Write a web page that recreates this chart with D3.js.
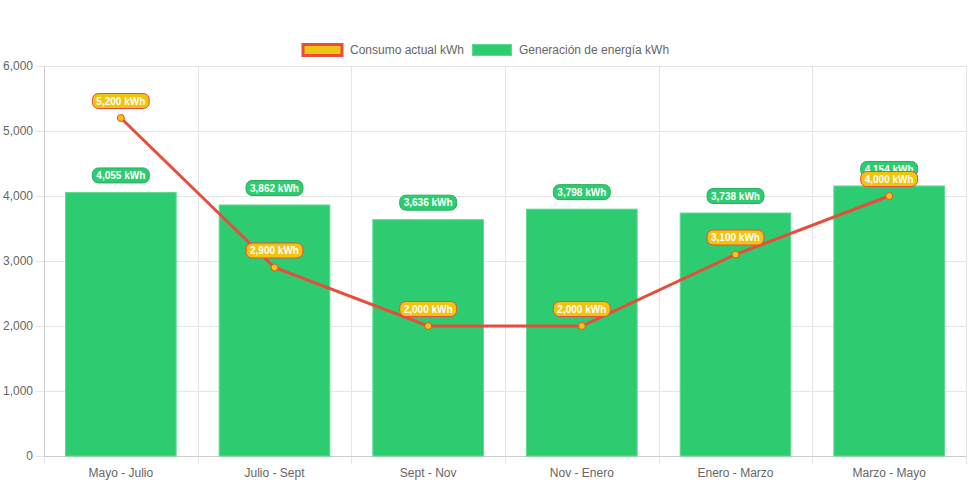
<!DOCTYPE html>
<html><head><meta charset="utf-8">
<script src="https://cdn.jsdelivr.net/npm/d3@7"></script>
<style>body{margin:0;background:#fff;}svg{display:block;font-family:"Liberation Sans",Arial,Helvetica,sans-serif;}</style>
</head><body><svg id="c" width="971" height="485"></svg>
<script>
const categories = ["Mayo - Julio","Julio - Sept","Sept - Nov","Nov - Enero","Enero - Marzo","Marzo - Mayo"];
const consumo = [5200, 2900, 2000, 2000, 3100, 4000];
const generacion = [4055, 3862, 3636, 3798, 3738, 4154];
const yTicks = [0,1000,2000,3000,4000,5000,6000];
const seriesNames = ["Consumo actual kWh","Generación de energía kWh"];

const svg = d3.select("#c");
const m = {l:44, r:966, t:66, b:456};
const x = d3.scaleBand().domain(categories).range([m.l, m.r]).paddingInner(0).paddingOuter(0);
const y = d3.scaleLinear().domain([0,6000]).range([m.b, m.t]);
const fmt = d3.format(",");
const grid = "#e5e5e5";

// horizontal grid
const g = svg.append("g");
yTicks.forEach(t=>{
  g.append("line").attr("x1",m.l-8).attr("x2",m.r).attr("y1",y(t)+0.5).attr("y2",y(t)+0.5).attr("stroke",grid);
  g.append("text").attr("x",m.l-11).attr("y",y(t)+4).attr("text-anchor","end").attr("font-size",12).attr("fill","#666").text(fmt(t));
});
// vertical grid
const bounds = categories.map(c=>x(c)).concat([m.r]);
bounds.forEach(b=>{
  g.append("line").attr("x1",Math.round(b)+0.5).attr("x2",Math.round(b)+0.5).attr("y1",m.t).attr("y2",m.b+8).attr("stroke",grid);
});
// axis lines
g.append("line").attr("x1",m.l+0.5).attr("x2",m.l+0.5).attr("y1",m.t).attr("y2",m.b).attr("stroke","#ccc");
g.append("line").attr("x1",m.l).attr("x2",m.r).attr("y1",m.b+0.5).attr("y2",m.b+0.5).attr("stroke","#ccc");
// x labels
categories.forEach(c=>{
  g.append("text").attr("x",x(c)+x.bandwidth()/2).attr("y",m.b+21).attr("text-anchor","middle").attr("font-size",12).attr("fill","#666").text(c);
});

// bars
const bw = x.bandwidth()*0.72;
svg.append("g").selectAll("rect").data(generacion).join("rect")
  .attr("x",(d,i)=>x(categories[i])+x.bandwidth()/2-bw/2)
  .attr("y",d=>y(d))
  .attr("width",bw).attr("height",d=>m.b-y(d))
  .attr("fill","#2ecc71").attr("stroke","#5fd992").attr("stroke-width",1);

// line
const cx = (i)=>x(categories[i])+x.bandwidth()/2;
svg.append("path").datum(consumo)
  .attr("d", d3.line().x((d,i)=>cx(i)).y(d=>y(d)))
  .attr("fill","none").attr("stroke","#e74c3c").attr("stroke-width",3);
svg.append("g").selectAll("circle").data(consumo).join("circle")
  .attr("cx",(d,i)=>cx(i)).attr("cy",d=>y(d)).attr("r",3.5)
  .attr("fill","#f1c40f").attr("stroke","#e74c3c").attr("stroke-width",1);

// labels
function label(parent, xc, yc, txt, bg, border){
  const gg = parent.append("g");
  const t = gg.append("text").attr("x",xc).attr("y",yc+3.6).attr("text-anchor","middle")
    .attr("font-size",10).attr("font-weight","bold").attr("fill","#fff").text(txt);
  const w = t.node().getComputedTextLength()+8;
  gg.insert("rect","text").attr("x",xc-w/2).attr("y",yc-7.5).attr("width",w).attr("height",15)
    .attr("rx",6).attr("fill",bg).attr("stroke",border).attr("stroke-width",1);
}
const lg = svg.append("g");
generacion.forEach((d,i)=>label(lg, cx(i), y(d)-17, fmt(d)+" kWh", "#2ecc71", "#27ae60"));
consumo.forEach((d,i)=>label(lg, cx(i), y(d)-17, fmt(d)+" kWh", "#f1c40f", "#e74c3c"));

// legend
const leg = svg.append("g");
leg.append("rect").attr("x",303).attr("y",44.5).attr("width",39).attr("height",11).attr("fill","#f1c40f").attr("stroke","#e74c3c").attr("stroke-width",3);
leg.append("text").attr("x",350).attr("y",54).attr("font-size",12).attr("fill","#666").text(seriesNames[0]);
leg.append("rect").attr("x",472.5).attr("y",44.5).attr("width",39).attr("height",11).attr("fill","#2ecc71").attr("stroke","#5fd992").attr("stroke-width",1);
leg.append("text").attr("x",519).attr("y",54).attr("font-size",12).attr("fill","#666").text(seriesNames[1]);
</script></body></html>
